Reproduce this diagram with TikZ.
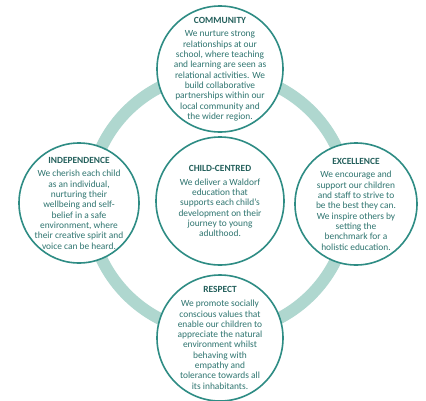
\documentclass[tikz,border=0pt]{standalone}
\usepackage{fontspec}
\setmainfont{Carlito}
\definecolor{ringc}{HTML}{AFD7CF}
\definecolor{edgec}{HTML}{2E8C84}
\definecolor{txtc}{HTML}{2F7570}
\definecolor{titc}{HTML}{24605C}
\tikzset{
  valcircle/.style={circle, draw=edgec, line width=1.6pt, fill=white, inner sep=0pt},
  valtext/.style={align=center, text=txtc, inner sep=0pt, font=\fontsize{9.4}{10.3}\selectfont},
  ringline/.style={draw=ringc, line width=12pt},
}
\newcommand{\valtitle}[1]{{\color{titc}\bfseries #1}\\[3.5pt]}
\begin{document}
\begin{tikzpicture}[x=1pt,y=-1pt]
\useasboundingbox[fill=white] (0,0) rectangle (426,400);
\coordinate (ringc) at (219,203);
\draw[ringline] (ringc) circle (130);
\node[valcircle, minimum size=126pt] (comm) at (220,69) {};
\node[valcircle, minimum size=128pt] (child) at (220,201) {};
\node[valcircle, minimum size=120pt] (indep) at (79,203) {};
\node[valcircle, minimum size=122pt] (excel) at (356,204) {};
\node[valcircle, minimum size=126pt] (resp) at (220,338) {};
\node[valtext] (commt) at (comm) {\valtitle{COMMUNITY}We nurture strong\\relationships at our\\school, where teaching\\and learning are seen as\\relational activities. We\\build collaborative\\partnerships within our\\local community and\\the wider region.};
\node[valtext] (childt) at (child) {\valtitle{CHILD-CENTRED}We deliver a Waldorf\\education that\\supports each child’s\\development on their\\journey to young\\adulthood.};
\node[valtext] (indept) at (indep) {\valtitle{INDEPENDENCE}We cherish each child\\as an individual,\\nurturing their\\wellbeing and self-\\belief in a safe\\environment, where\\their creative spirit and\\voice can be heard.};
\node[valtext] (excelt) at (excel) {\valtitle{EXCELLENCE}We encourage and\\support our children\\and staff to strive to\\be the best they can.\\We inspire others by\\setting the\\benchmark for a\\holistic education.};
\node[valtext] (respt) at (resp) {\valtitle{RESPECT}We promote socially\\conscious values that\\enable our children to\\appreciate the natural\\environment whilst\\behaving with\\empathy and\\tolerance towards all\\its inhabitants.};
\end{tikzpicture}
\end{document}
